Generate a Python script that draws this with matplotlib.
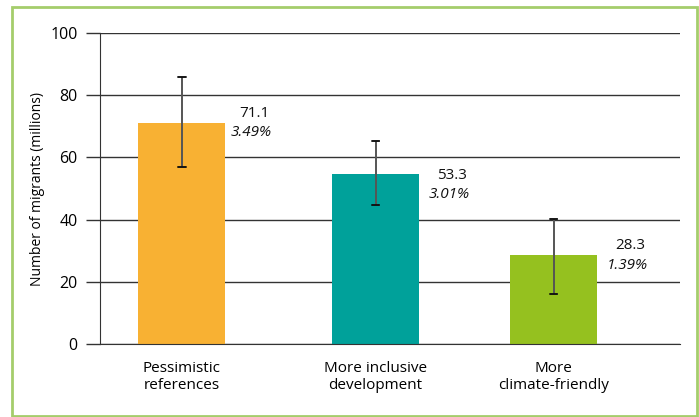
import matplotlib
matplotlib.use("Agg")
import matplotlib.pyplot as plt
from matplotlib.patches import Rectangle

# data
categories = ["Pessimistic\nreferences", "More inclusive\ndevelopment", "More\nclimate-friendly"]
bar_pos = [0, 1.043, 2]
bar_heights = [71.1, 54.7, 28.5]
err_low = [56.9, 44.7, 16.1]
err_high = [85.8, 65.3, 40.2]
value_labels = ["71.1", "53.3", "28.3"]
share_labels = ["3.49%", "3.01%", "1.39%"]
colors = ["#F8B133", "#00A19A", "#95C11F"]

plt.rcParams["font.family"] = ["Open Sans", "DejaVu Sans"]

fig = plt.figure(figsize=(6.99, 4.17), dpi=100)
fig.patches.append(Rectangle((12 / 699, 1 / 417), 685 / 699, 409 / 417,
                             transform=fig.transFigure, fill=False,
                             edgecolor="#A5CD6B", linewidth=2))

ax = fig.add_axes([100 / 699, 73 / 417, 580 / 699, 311 / 417])
ax.bar(bar_pos, bar_heights, width=0.47, color=colors, zorder=2)

yerr = [[h - lo for h, lo in zip(bar_heights, err_low)],
        [hi - h for h, hi in zip(bar_heights, err_high)]]
ax.errorbar(bar_pos, bar_heights, yerr=yerr, fmt="none", ecolor="#555555",
            elinewidth=1.4, capsize=2.6, capthick=1.1, zorder=3)
for xi, lo, hi in zip(bar_pos, err_low, err_high):
    ax.plot([xi - 0.02, xi + 0.02], [lo, lo], color="black", lw=1.1, zorder=4)
    ax.plot([xi - 0.02, xi + 0.02], [hi, hi], color="black", lw=1.1, zorder=4)

# value labels next to each bar
offsets = [0.39, 0.41, 0.41]
shifts = [7, -1, 7]
for xi, h, v, s, dx, dy in zip(bar_pos, bar_heights, value_labels, share_labels, offsets, shifts):
    ax.annotate(v, (xi + dx, h), xytext=(0, dy), textcoords="offset points",
                ha="center", va="center", fontsize=11, color="#111111")
    ax.annotate(s, (xi + dx, h), xytext=(-2, dy - 14), textcoords="offset points",
                ha="center", va="center", fontsize=11, style="italic", color="#111111")

ax.set_xlim(-0.44, 2.68)
ax.set_ylim(0, 100)
ax.set_yticks([0, 20, 40, 60, 80, 100])
ax.set_xticks(bar_pos)
ax.set_xticklabels(categories, fontsize=11, linespacing=1.2)
ax.tick_params(axis="x", length=0, pad=12)
ax.tick_params(axis="y", length=10, width=1, color="#333333", pad=6, labelsize=11.5)
ax.yaxis.grid(True, color="#333333", linewidth=1, zorder=0)
ax.set_axisbelow(True)
for side in ["top", "right"]:
    ax.spines[side].set_visible(False)
ax.spines["left"].set_color("#333333")
ax.spines["bottom"].set_color("#333333")
ax.set_ylabel("Number of migrants (millions)", fontsize=10, labelpad=4)

fig.savefig("out.png", dpi=100)
